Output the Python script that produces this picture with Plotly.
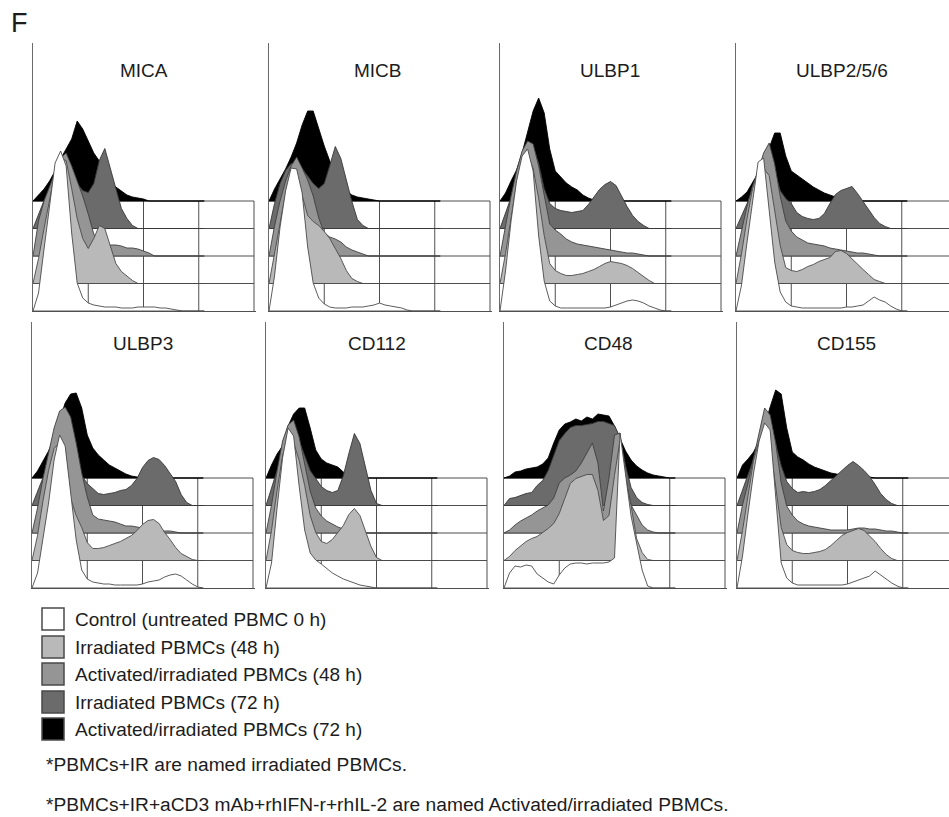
import plotly.graph_objects as go

FIG_W, FIG_H = 949, 817

# x positions of the histogram samples, in log decades (10^0 .. 10^4 axis)
DECADES = [0.0, 0.1, 0.2, 0.3, 0.4, 0.5, 0.6, 0.7, 0.8, 0.9,
           1.0, 1.1, 1.2, 1.3, 1.4, 1.5, 1.6, 1.7, 1.8, 1.9,
           2.0, 2.1, 2.2, 2.3, 2.4, 2.5, 2.6, 2.7, 2.8, 2.9,
           3.0, 3.1]

SERIES = ["Control (untreated PBMC 0 h)",
          "Irradiated PBMCs (48 h)",
          "Activated/irradiated PBMCs (48 h)",
          "Irradiated PBMCs (72 h)",
          "Activated/irradiated PBMCs (72 h)"]

MARKERS = ["MICA", "MICB", "ULBP1", "ULBP2/5/6", "ULBP3", "CD112", "CD48", "CD155"]

# histogram heights (relative counts) per marker and condition
MICA_CTRL  = [0, 18, 62, 108, 148, 160, 145, 78, 28, 13, 8, 6, 5, 4, 4, 4, 3, 3, 3, 4, 4, 4, 4, 3, 3, 2, 1, 0, 0, 0, 0, 0]
MICA_IR48  = [0, 25, 55, 85, 112, 125, 123, 95, 65, 45, 35, 45, 58, 55, 38, 20, 12, 7, 3, 0, 0, 0, 0, 0, 0, 0, 0, 0, 0, 0, 0, 0]
MICA_ACT48 = [0, 35, 55, 70, 85, 98, 103, 90, 75, 60, 42, 22, 14, 12, 11, 11, 10, 8, 8, 7, 5, 3, 0, 0, 0, 0, 0, 0, 0, 0, 0, 0]
MICA_IR72  = [0, 15, 28, 40, 52, 62, 66, 55, 45, 38, 36, 45, 68, 80, 60, 40, 20, 10, 3, 0, 0, 0, 0, 0, 0, 0, 0, 0, 0, 0, 0, 0]
MICA_ACT72 = [0, 6, 12, 20, 30, 42, 52, 62, 80, 72, 60, 48, 40, 30, 20, 14, 10, 6, 4, 3, 2, 0, 0, 0, 0, 0, 0, 0, 0, 0, 0, 0]

MICB_CTRL  = [0, 35, 84, 120, 143, 142, 118, 64, 28, 13, 7, 4, 3, 3, 3, 4, 4, 4, 5, 6, 8, 6, 5, 4, 3, 1, 0, 0, 0, 0, 0, 0]
MICB_IR48  = [0, 30, 62, 90, 108, 110, 88, 68, 62, 58, 52, 45, 35, 25, 13, 5, 2, 0, 0, 0, 0, 0, 0, 0, 0, 0, 0, 0, 0, 0, 0, 0]
MICB_ACT48 = [0, 30, 55, 75, 90, 99, 88, 76, 60, 38, 23, 19, 17, 14, 9, 6, 4, 2, 0, 0, 0, 0, 0, 0, 0, 0, 0, 0, 0, 0, 0, 0]
MICB_IR72  = [0, 25, 45, 58, 65, 65, 60, 52, 45, 40, 45, 63, 82, 70, 48, 27, 9, 3, 0, 0, 0, 0, 0, 0, 0, 0, 0, 0, 0, 0, 0, 0]
MICB_ACT72 = [0, 12, 22, 32, 44, 58, 76, 90, 90, 72, 55, 40, 28, 18, 10, 6, 4, 3, 2, 1, 0, 0, 0, 0, 0, 0, 0, 0, 0, 0, 0, 0]

ULBP1_CTRL  = [0, 40, 90, 130, 155, 162, 140, 75, 30, 10, 5, 3, 3, 3, 3, 3, 3, 3, 3, 3, 4, 6, 8, 10, 11, 10, 8, 5, 3, 1, 0, 0]
ULBP1_IR48  = [0, 30, 65, 100, 120, 128, 115, 85, 48, 20, 13, 10, 8, 8, 9, 10, 12, 14, 17, 20, 22, 21, 20, 18, 15, 11, 7, 3, 0, 0, 0, 0]
ULBP1_ACT48 = [0, 30, 60, 85, 105, 115, 112, 90, 60, 32, 26, 22, 17, 14, 12, 11, 10, 9, 8, 7, 6, 5, 4, 3, 3, 2, 1, 0, 0, 0, 0, 0]
ULBP1_IR72  = [0, 15, 30, 45, 62, 78, 82, 65, 40, 25, 20, 18, 17, 16, 17, 18, 24, 32, 39, 44, 47, 43, 32, 22, 13, 7, 3, 0, 0, 0, 0, 0]
ULBP1_ACT72 = [0, 8, 20, 31, 48, 70, 90, 103, 88, 52, 30, 24, 18, 14, 11, 6, 3, 1, 0, 0, 0, 0, 0, 0, 0, 0, 0, 0, 0, 0, 0, 0]

ULBP2_CTRL  = [0, 26, 69, 109, 149, 153, 103, 49, 19, 9, 5, 4, 3, 3, 3, 3, 3, 3, 3, 3, 4, 4, 5, 6, 10, 14, 11, 9, 5, 2, 0, 0]
ULBP2_IR48  = [0, 30, 65, 95, 112, 115, 108, 72, 38, 16, 13, 12, 14, 17, 19, 22, 24, 26, 32, 33, 30, 25, 20, 14, 9, 4, 2, 0, 0, 0, 0, 0]
ULBP2_ACT48 = [0, 25, 50, 70, 85, 103, 113, 92, 60, 35, 25, 19, 16, 13, 12, 11, 10, 8, 7, 6, 5, 4, 3, 3, 2, 1, 0, 0, 0, 0, 0, 0]
ULBP2_IR72  = [0, 12, 25, 38, 50, 65, 70, 58, 38, 30, 25, 16, 12, 10, 9, 10, 15, 25, 34, 38, 40, 42, 35, 27, 19, 11, 5, 2, 0, 0, 0, 0]
ULBP2_ACT72 = [0, 4, 9, 18, 28, 38, 52, 68, 68, 45, 30, 26, 22, 18, 14, 11, 8, 6, 4, 3, 1, 0, 0, 0, 0, 0, 0, 0, 0, 0, 0, 0]

ULBP3_CTRL  = [0, 15, 50, 85, 128, 153, 142, 97, 48, 18, 9, 6, 5, 4, 4, 3, 3, 3, 3, 3, 4, 6, 7, 8, 11, 13, 14, 12, 8, 4, 1, 0]
ULBP3_IR48  = [0, 25, 60, 90, 112, 118, 112, 62, 45, 33, 18, 12, 12, 13, 15, 17, 19, 22, 25, 30, 36, 40, 41, 37, 28, 21, 13, 7, 4, 1, 0, 0]
ULBP3_ACT48 = [0, 25, 55, 80, 105, 122, 126, 116, 90, 60, 36, 18, 14, 13, 12, 11, 9, 7, 7, 6, 5, 5, 4, 3, 2, 2, 1, 0, 0, 0, 0, 0]
ULBP3_IR72  = [0, 15, 28, 42, 58, 75, 85, 72, 50, 30, 22, 17, 12, 11, 12, 13, 15, 16, 20, 27, 38, 45, 48, 46, 40, 32, 24, 11, 3, 0, 0, 0]
ULBP3_ACT72 = [0, 7, 17, 27, 40, 58, 75, 84, 85, 70, 43, 30, 23, 18, 13, 10, 7, 4, 2, 1, 0, 0, 0, 0, 0, 0, 0, 0, 0, 0, 0, 0]

CD112_CTRL  = [0, 25, 80, 130, 160, 152, 102, 58, 35, 28, 24, 19, 15, 12, 9, 7, 5, 3, 2, 1, 0, 0, 0, 0, 0, 0, 0, 0, 0, 0, 0, 0]
CD112_IR48  = [0, 30, 70, 105, 120, 118, 100, 75, 45, 28, 19, 17, 21, 28, 35, 46, 52, 45, 30, 14, 3, 0, 0, 0, 0, 0, 0, 0, 0, 0, 0, 0]
CD112_ACT48 = [0, 28, 62, 92, 108, 113, 96, 68, 42, 25, 17, 12, 9, 6, 4, 3, 2, 1, 0, 0, 0, 0, 0, 0, 0, 0, 0, 0, 0, 0, 0, 0]
CD112_IR72  = [0, 18, 35, 50, 62, 70, 65, 50, 35, 27, 19, 15, 13, 15, 30, 52, 72, 62, 38, 15, 2, 0, 0, 0, 0, 0, 0, 0, 0, 0, 0, 0]
CD112_ACT72 = [0, 13, 24, 32, 52, 64, 70, 70, 50, 28, 19, 15, 13, 11, 6, 2, 0, 0, 0, 0, 0, 0, 0, 0, 0, 0, 0, 0, 0, 0, 0, 0]

CD48_CTRL  = [0, 15, 22, 21, 23, 22, 14, 10, 6, 4, 13, 20, 24, 25, 25, 24, 25, 25, 25, 26, 30, 155, 115, 72, 45, 18, 2, 0, 0, 0, 0, 0]
CD48_IR48  = [0, 4, 10, 15, 19, 22, 24, 28, 32, 37, 47, 62, 77, 82, 84, 86, 86, 70, 40, 45, 85, 120, 80, 55, 22, 8, 1, 0, 0, 0, 0, 0]
CD48_ACT48 = [0, 3, 8, 12, 15, 18, 22, 25, 28, 35, 50, 55, 58, 62, 70, 80, 90, 70, 22, 55, 98, 100, 55, 28, 18, 8, 3, 1, 0, 0, 0, 0]
CD48_IR72  = [0, 7, 8, 10, 12, 13, 20, 25, 35, 50, 65, 72, 78, 80, 80, 81, 82, 84, 84, 82, 80, 68, 40, 18, 8, 3, 1, 0, 0, 0, 0, 0]
CD48_ACT72 = [0, 2, 6, 7, 9, 10, 11, 14, 20, 35, 48, 54, 56, 59, 57, 61, 59, 64, 63, 62, 52, 40, 27, 18, 12, 8, 5, 3, 2, 1, 0, 0]

CD155_CTRL  = [0, 32, 75, 115, 147, 165, 158, 93, 25, 10, 5, 3, 3, 3, 3, 3, 3, 3, 3, 3, 4, 6, 8, 10, 12, 17, 13, 9, 5, 2, 0, 0]
CD155_IR48  = [0, 30, 65, 100, 120, 126, 115, 72, 33, 16, 10, 8, 7, 7, 8, 9, 11, 15, 20, 25, 28, 30, 32, 30, 25, 19, 12, 6, 2, 0, 0, 0]
CD155_ACT48 = [0, 28, 50, 75, 100, 125, 118, 90, 50, 27, 18, 12, 9, 7, 6, 5, 4, 3, 3, 3, 3, 4, 5, 5, 4, 4, 3, 2, 2, 1, 0, 0]
CD155_IR72  = [0, 15, 30, 45, 62, 78, 82, 62, 40, 24, 17, 13, 14, 13, 14, 16, 20, 25, 30, 36, 40, 44, 40, 35, 29, 21, 12, 6, 2, 0, 0, 0]
CD155_ACT72 = [0, 13, 19, 26, 37, 52, 71, 88, 84, 50, 26, 21, 18, 14, 11, 9, 7, 5, 4, 3, 3, 2, 2, 1, 1, 0, 0, 0, 0, 0, 0, 0]

HISTS = {
    "MICA": [MICA_CTRL, MICA_IR48, MICA_ACT48, MICA_IR72, MICA_ACT72],
    "MICB": [MICB_CTRL, MICB_IR48, MICB_ACT48, MICB_IR72, MICB_ACT72],
    "ULBP1": [ULBP1_CTRL, ULBP1_IR48, ULBP1_ACT48, ULBP1_IR72, ULBP1_ACT72],
    "ULBP2/5/6": [ULBP2_CTRL, ULBP2_IR48, ULBP2_ACT48, ULBP2_IR72, ULBP2_ACT72],
    "ULBP3": [ULBP3_CTRL, ULBP3_IR48, ULBP3_ACT48, ULBP3_IR72, ULBP3_ACT72],
    "CD112": [CD112_CTRL, CD112_IR48, CD112_ACT48, CD112_IR72, CD112_ACT72],
    "CD48": [CD48_CTRL, CD48_IR48, CD48_ACT48, CD48_IR72, CD48_ACT72],
    "CD155": [CD155_CTRL, CD155_IR48, CD155_ACT48, CD155_IR72, CD155_ACT72],
}

# ---------------- styling / layout (pixels) ----------------
FILLS = ["#ffffff", "#b9b9b9", "#959595", "#6b6b6b", "#000000"]
OUTLINES = ["#4a4a4a", "#4a4a4a", "#404040", "#383838", "#000000"]
GRID_COLOR = "#4f4f4f"
FONT = "Liberation Sans, Arial, Helvetica, sans-serif"
TXT = "#1c1c1c"

OFFSET = 27.5        # vertical stagger between overlaid histograms
DECADE_PX = 55.25    # width of one decade

# left, top, bottom of each panel, title centre x, title centre y
GEOM = {
    "MICA": (33, 43, 311, 144, 70),
    "MICB": (269, 43, 311, 378, 70),
    "ULBP1": (500, 43, 311, 610, 70),
    "ULBP2/5/6": (736, 43, 311, 842, 70),
    "ULBP3": (32, 322, 588, 143, 343),
    "CD112": (266, 322, 588, 377, 343),
    "CD48": (504, 322, 588, 608, 343),
    "CD155": (737, 322, 588, 846, 343),
}


def px(x):
    return x / FIG_W


def py(y):
    return 1 - y / FIG_H


fig = go.Figure()
layout = {}
annotations = []
shapes = []

for i, name in enumerate(MARKERS):
    L, T, B, tx, ty = GEOM[name]
    sfx = "" if i == 0 else str(i + 1)
    xa, ya = "x" + sfx, "y" + sfx
    R = min(L + 4.03 * DECADE_PX, FIG_W)
    xmax = (R - L) / DECADE_PX
    layout["xaxis" + sfx] = dict(domain=[px(L), px(R)], range=[0, xmax], anchor=ya,
                                 showgrid=False, zeroline=False, showticklabels=False,
                                 ticks="", showline=True, linecolor=GRID_COLOR,
                                 linewidth=1, fixedrange=True)
    layout["yaxis" + sfx] = dict(domain=[py(B), py(T)], range=[0, B - T], anchor=xa,
                                 showgrid=False, zeroline=False, showticklabels=False,
                                 ticks="", showline=True, linecolor="#6a6a6a",
                                 linewidth=1.3, fixedrange=True)

    # staggered decade grid boxes
    gx = min(4.0, xmax)
    top = 4 * OFFSET
    gxs, gys = [], []
    for k in range(1, 5):
        gxs += [0, gx, None]
        gys += [k * OFFSET, k * OFFSET, None]
    for d in (1, 2, 3, 4):
        if d <= xmax:
            gxs += [d, d, None]
            gys += [0, top, None]
    fig.add_trace(go.Scatter(x=gxs, y=gys, xaxis=xa, yaxis=ya, mode="lines",
                             line=dict(color=GRID_COLOR, width=1),
                             hoverinfo="skip", showlegend=False))

    # histograms from back (72 h activated) to front (control)
    for k in range(4, -1, -1):
        h = HISTS[name][k]
        base = k * OFFSET
        xs = DECADES + [DECADES[-1], DECADES[0]]
        ys = [base + v for v in h] + [base, base]
        fig.add_trace(go.Scatter(x=xs, y=ys, xaxis=xa, yaxis=ya, mode="lines",
                                 fill="toself", fillcolor=FILLS[k],
                                 line=dict(color=OUTLINES[k], width=0.9),
                                 name=SERIES[k], hoverinfo="skip", showlegend=False))

    annotations.append(dict(x=px(tx), y=py(ty), xref="paper", yref="paper",
                            text=name, showarrow=False, xanchor="center",
                            yanchor="middle", font=dict(family=FONT, size=19, color=TXT)))

# panel letter
annotations.append(dict(x=px(9), y=py(23), xref="paper", yref="paper", text="F",
                        showarrow=False, xanchor="left", yanchor="middle",
                        font=dict(family=FONT, size=27, color=TXT)))

# legend
LEG_TOPS = [608, 636, 663, 691, 718]
for k, top in enumerate(LEG_TOPS):
    shapes.append(dict(type="rect", xref="paper", yref="paper",
                       x0=px(42), x1=px(64), y0=py(top + 22), y1=py(top),
                       fillcolor=FILLS[k], line=dict(color="#4a4a4a", width=1.5)))
    annotations.append(dict(x=px(73), y=py(top + 11), xref="paper", yref="paper",
                            text=SERIES[k], showarrow=False, xanchor="left",
                            yanchor="middle", font=dict(family=FONT, size=19, color=TXT)))

NOTES = ["*PBMCs+IR are named irradiated PBMCs.",
         "*PBMCs+IR+aCD3 mAb+rhIFN-r+rhIL-2 are named Activated/irradiated PBMCs."]
for txt, y in zip(NOTES, [764, 804]):
    annotations.append(dict(x=px(44), y=py(y), xref="paper", yref="paper", text=txt,
                            showarrow=False, xanchor="left", yanchor="middle",
                            font=dict(family=FONT, size=19.2, color=TXT)))

fig.update_layout(width=FIG_W, height=FIG_H, autosize=False,
                  margin=dict(l=0, r=0, t=0, b=0),
                  paper_bgcolor="white", plot_bgcolor="rgba(0,0,0,0)",
                  showlegend=False, annotations=annotations, shapes=shapes,
                  **layout)

fig.write_html("out.html", config={"displayModeBar": False})
